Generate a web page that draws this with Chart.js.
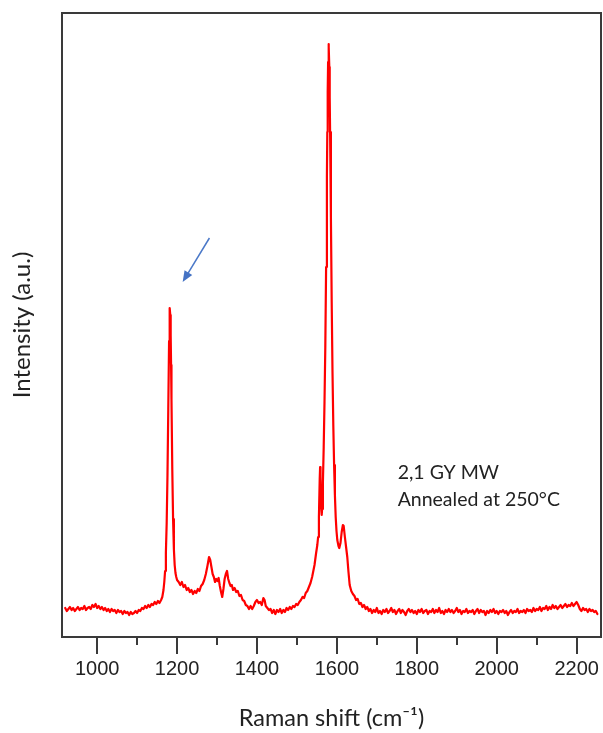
<!DOCTYPE html>
<html>
<head>
<meta charset="utf-8">
<script src="https://cdn.jsdelivr.net/npm/chart.js@4/dist/chart.umd.min.js"></script>
<style>
  body { margin: 0; background: #fff; }
  #wrap { width: 603px; height: 733px; }
</style>
</head>
<body>
<div id="wrap"><canvas id="chart" width="603" height="733"></canvas></div>
<script>
// spectrum, as [Raman shift (cm-1), intensity (a.u.)]
const lowShift = [
  [920, 29], [924, 26], [928, 28], [932, 30], [936, 27], [940, 29], [944, 26], [948, 28],
  [952, 30], [956, 27], [960, 29], [964, 28], [968, 31], [972, 27], [976, 29], [980, 30],
  [984, 28], [988, 32], [992, 30], [996, 33], [1000, 29], [1004, 31], [1008, 28], [1012, 30],
  [1016, 27], [1020, 29], [1024, 26], [1028, 28], [1032, 25], [1036, 28], [1040, 26], [1044, 27],
  [1048, 24], [1052, 27], [1056, 25], [1060, 26], [1064, 23], [1068, 26], [1072, 24], [1076, 25],
  [1080, 22], [1084, 25], [1088, 23], [1092, 24], [1096, 26], [1100, 24], [1104, 27], [1108, 26],
  [1112, 29], [1116, 28], [1120, 31], [1124, 29], [1128, 32], [1132, 30], [1136, 33], [1140, 32],
  [1144, 35], [1148, 33], [1152, 36], [1156, 34], [1160, 37]
];
const dBand = [
  [1163, 40], [1166, 47], [1168, 55], [1170, 66], [1172, 84], [1174, 114], [1176, 162],
  [1178, 228], [1180, 296], [1181, 318], [1182, 329], [1183, 322], [1184, 302], [1185, 272],
  [1186, 238], [1188, 168], [1190, 118], [1192, 88], [1194, 72], [1196, 64], [1198, 60], [1200, 57]
];
const midShift = [
  [1204, 55], [1208, 52], [1212, 55], [1216, 50], [1220, 52], [1224, 47], [1228, 49], [1232, 45],
  [1236, 47], [1240, 43], [1244, 46], [1248, 44], [1252, 48], [1256, 46], [1260, 51], [1264, 53],
  [1268, 57], [1272, 63], [1276, 71], [1280, 80], [1283, 77], [1286, 70], [1289, 63], [1292, 60],
  [1295, 55], [1298, 58], [1301, 56], [1304, 59], [1307, 51], [1310, 45], [1313, 40], [1316, 48],
  [1319, 58], [1322, 63], [1325, 66], [1328, 58], [1331, 54], [1334, 51], [1337, 52], [1340, 47],
  [1344, 49], [1348, 45], [1352, 46], [1356, 41], [1360, 42], [1364, 37], [1368, 36], [1372, 32],
  [1376, 31], [1380, 28], [1384, 31], [1388, 28], [1392, 31], [1396, 35], [1400, 37], [1404, 34],
  [1408, 35], [1412, 32], [1416, 39], [1419, 37], [1422, 31], [1426, 29], [1430, 27], [1434, 28],
  [1438, 24], [1442, 27], [1446, 23], [1450, 27], [1454, 25], [1458, 28], [1462, 24], [1466, 27],
  [1470, 25], [1474, 29], [1478, 27], [1482, 30], [1486, 28], [1490, 31], [1494, 30], [1498, 33],
  [1502, 32], [1506, 35], [1510, 37], [1514, 40], [1518, 39], [1522, 44], [1526, 46], [1530, 50],
  [1534, 54], [1538, 60], [1541, 66], [1544, 72]
];
const gBand = [
  [1548, 84], [1551, 92], [1553, 100], [1555, 120], [1557, 158], [1558, 170], [1559, 160],
  [1561, 128], [1562, 122], [1563, 128], [1565, 155], [1567, 190], [1569, 235], [1571, 290],
  [1573, 370], [1575, 460], [1576, 505], [1577, 545], [1578, 575], [1579, 593], [1580, 590],
  [1581, 570], [1582, 540], [1583, 505], [1585, 420], [1587, 335], [1589, 265], [1591, 212],
  [1593, 172], [1595, 142], [1597, 120], [1599, 106], [1601, 97], [1604, 91], [1606, 89],
  [1609, 94], [1612, 105], [1615, 112], [1617, 111], [1620, 100], [1623, 90], [1626, 80],
  [1629, 65], [1632, 52], [1636, 46], [1640, 43], [1644, 41], [1648, 37], [1652, 38],
  [1656, 33], [1660, 34], [1664, 30], [1668, 32], [1672, 28], [1676, 30], [1680, 26]
];
const highShift = [
  [1684, 28], [1688, 24], [1692, 27], [1696, 25], [1700, 29], [1704, 24], [1708, 26], [1712, 23],
  [1716, 27], [1720, 25], [1724, 28], [1728, 24], [1732, 26], [1736, 29], [1740, 25], [1744, 27],
  [1748, 23], [1752, 26], [1756, 28], [1760, 24], [1764, 27], [1768, 25], [1772, 22], [1776, 26],
  [1780, 28], [1784, 25], [1788, 27], [1792, 24], [1796, 26], [1800, 23], [1804, 27], [1808, 25],
  [1812, 28], [1816, 24], [1820, 26], [1824, 27], [1828, 23], [1832, 26], [1836, 25], [1840, 28],
  [1844, 24], [1848, 27], [1852, 25], [1856, 29], [1860, 24], [1864, 26], [1868, 23], [1872, 27],
  [1876, 25], [1880, 28], [1884, 25], [1888, 27], [1892, 24], [1896, 26], [1900, 29], [1904, 25],
  [1908, 27], [1912, 23], [1916, 26], [1920, 25], [1924, 28], [1928, 24], [1932, 26], [1936, 25],
  [1940, 27], [1944, 23], [1948, 26], [1952, 28], [1956, 24], [1960, 27], [1964, 25], [1968, 26],
  [1972, 22], [1976, 26], [1980, 24], [1984, 27], [1988, 25], [1992, 28], [1996, 24], [2000, 26],
  [2004, 23], [2008, 26], [2012, 25], [2016, 27], [2020, 24], [2024, 26], [2028, 22], [2032, 25],
  [2036, 27], [2040, 24], [2044, 26], [2048, 25], [2052, 28], [2056, 24], [2060, 26], [2064, 25],
  [2068, 27], [2072, 24], [2076, 28], [2080, 26], [2084, 27], [2088, 25], [2092, 29], [2096, 26],
  [2100, 28], [2104, 27], [2108, 30], [2112, 26], [2116, 29], [2120, 28], [2124, 31], [2128, 27],
  [2132, 30], [2136, 28], [2140, 32], [2144, 29], [2148, 31], [2152, 28], [2156, 30], [2160, 32],
  [2164, 29], [2168, 31], [2172, 33], [2176, 30], [2180, 32], [2184, 31], [2188, 34], [2192, 31],
  [2196, 33], [2200, 35], [2204, 32], [2208, 28], [2212, 26], [2216, 29], [2220, 27], [2224, 28],
  [2228, 25], [2232, 28], [2236, 26], [2240, 27], [2244, 25], [2248, 26], [2252, 23]
];
const majorTicks = [1000, 1200, 1400, 1600, 1800, 2000, 2200];
const minorTicks = [1100, 1300, 1500, 1700, 1900, 2100];
const noteLines = ['2,1 GY MW', 'Annealed at 250°C'];

const frameColor = '#3a3a3a';
const textColor = '#222';

// box round the plot area plus the short minor ticks
const framePlugin = {
  id: 'frame',
  afterDraw(chart) {
    const { ctx, chartArea: a, scales: { x } } = chart;
    ctx.save();
    ctx.strokeStyle = frameColor;
    ctx.lineWidth = 2;
    ctx.strokeRect(a.left, a.top, a.right - a.left, a.bottom - a.top);
    ctx.beginPath();
    minorTicks.forEach(v => {
      const px = Math.round(x.getPixelForValue(v));
      ctx.moveTo(px, a.bottom);
      ctx.lineTo(px, a.bottom + 8);
    });
    ctx.stroke();
    ctx.restore();
  }
};

// sample note and the arrow pointing at the 1180 peak
const notePlugin = {
  id: 'note',
  afterDraw(chart) {
    const { ctx, scales: { x, y } } = chart;
    ctx.save();
    ctx.fillStyle = textColor;
    ctx.font = '19.5px Lato';
    ctx.textBaseline = 'alphabetic';
    const tx = x.getPixelForValue(1752);
    ctx.fillText(noteLines[0], tx, y.getPixelForValue(158));
    ctx.fillText(noteLines[1], tx, y.getPixelForValue(131));

    const x1 = x.getPixelForValue(1281), y1 = y.getPixelForValue(399);
    const x2 = x.getPixelForValue(1214), y2 = y.getPixelForValue(355);
    const ang = Math.atan2(y2 - y1, x2 - x1);
    ctx.strokeStyle = '#4a78c8';
    ctx.fillStyle = '#4472c4';
    ctx.lineWidth = 1.5;
    ctx.beginPath();
    ctx.moveTo(x1, y1);
    ctx.lineTo(x2 - 9 * Math.cos(ang), y2 - 9 * Math.sin(ang));
    ctx.stroke();
    ctx.beginPath();
    ctx.moveTo(x2, y2);
    ctx.lineTo(x2 - 11 * Math.cos(ang) + 4.5 * Math.sin(ang), y2 - 11 * Math.sin(ang) - 4.5 * Math.cos(ang));
    ctx.lineTo(x2 - 11 * Math.cos(ang) - 4.5 * Math.sin(ang), y2 - 11 * Math.sin(ang) + 4.5 * Math.cos(ang));
    ctx.closePath();
    ctx.fill();
    ctx.restore();
  }
};

const spectrum = [...lowShift, ...dBand, ...midShift, ...gBand, ...highShift];
const points = spectrum.map(([shift, value]) => ({ x: shift, y: value }));

new Chart(document.getElementById('chart'), {
  type: 'line',
  data: {
    datasets: [{
      data: points,
      borderColor: '#ff0000',
      borderWidth: 2.2,
      borderJoinStyle: 'round',
      borderCapStyle: 'round',
      pointRadius: 0,
      tension: 0,
      fill: false
    }]
  },
  options: {
    responsive: false,
    animation: false,
    layout: { padding: { top: 13, right: 2, left: 0, bottom: 0 } },
    plugins: { legend: { display: false }, tooltip: { enabled: false } },
    scales: {
      x: {
        type: 'linear',
        min: 912,
        max: 2261,
        afterBuildTicks: s => { s.ticks = majorTicks.map(v => ({ value: v })); },
        ticks: {
          color: textColor,
          padding: 3,
          maxRotation: 0,
          font: { family: 'Liberation Sans', size: 20 },
          callback: v => String(v)
        },
        grid: {
          display: true,
          drawOnChartArea: false,
          drawTicks: true,
          tickLength: 17,
          color: frameColor,
          lineWidth: 2
        },
        border: { display: false },
        title: {
          display: true,
          text: 'Raman shift (cm⁻¹)',
          color: textColor,
          font: { family: 'Lato', size: 23.5 },
          padding: { top: 20.8, bottom: 0 }
        }
      },
      y: {
        type: 'linear',
        min: 0,
        max: 624,
        ticks: { display: false },
        grid: { display: false, drawTicks: false },
        border: { display: false },
        title: {
          display: true,
          text: 'Intensity (a.u.)',
          color: textColor,
          font: { family: 'Lato', size: 24 },
          padding: { top: 7.6, bottom: 25.6 }
        }
      }
    }
  },
  plugins: [framePlugin, notePlugin]
});
</script>
</body>
</html>
